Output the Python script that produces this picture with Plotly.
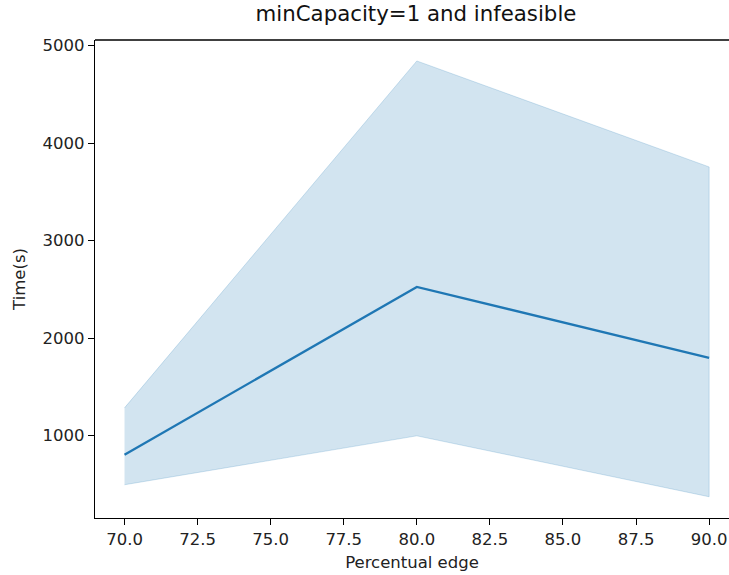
import plotly.graph_objects as go

x_vals = [70, 80, 90]
mean_vals = [802, 2525, 1797]
lower_vals = [495, 997, 372]
upper_vals = [1284, 4843, 3756]
x_ticks = [70, 72.5, 75, 77.5, 80, 82.5, 85, 87.5, 90]
x_tick_text = [f"{v:.1f}" for v in x_ticks]
y_ticks = [1000, 2000, 3000, 4000, 5000]

W, H = 729, 575
L, R, T, B = 95, 0, 40, 57

fig = go.Figure()
fig.add_trace(go.Scatter(x=x_vals + x_vals[::-1], y=upper_vals + lower_vals[::-1],
                         fill="toself", fillcolor="rgba(31,119,180,0.2)",
                         line=dict(color="rgba(31,119,180,0.2)", width=1),
                         mode="lines", hoverinfo="skip", showlegend=False))
fig.add_trace(go.Scatter(x=x_vals, y=mean_vals, mode="lines",
                         line=dict(color="#1f77b4", width=2.3), showlegend=False))

font = "DejaVu Sans"
fs = 16.5
fig.update_layout(
    width=W, height=H, margin=dict(l=L, r=R, t=T, b=B),
    plot_bgcolor="white", paper_bgcolor="white",
    font=dict(family=font, size=fs, color="black"),
    title=dict(text="minCapacity=1 and infeasible", x=416 / W, xanchor="center",
               xref="container", y=1 - 14 / H, yanchor="middle", yref="container",
               font=dict(family=font, size=21.3, color="#111")),
    xaxis=dict(range=[68.99, 90.68], tickvals=x_ticks, ticktext=x_tick_text,
               showgrid=False, zeroline=False, showline=True, linecolor="black",
               linewidth=1.3, ticks="outside", ticklen=6, tickwidth=1.2, tickcolor="black",
               tickfont=dict(size=fs, color="#222"),
               title=dict(text="Percentual edge", font=dict(size=fs, color="#222"), standoff=8)),
    yaxis=dict(range=[154, 5058], tickvals=y_ticks, ticktext=[str(v) for v in y_ticks],
               showgrid=False, zeroline=False, showline=True, linecolor="black",
               linewidth=1.3, ticks="outside", ticklen=6, tickwidth=1.2, tickcolor="black",
               tickfont=dict(size=fs, color="#222"),
               title=dict(text="Time(s)", font=dict(size=fs, color="#222"), standoff=12)),
)
fig.add_shape(type="line", xref="paper", yref="paper", x0=0, x1=1, y0=1, y1=1,
              line=dict(color="black", width=1.3))
fig.write_html("out.html")
